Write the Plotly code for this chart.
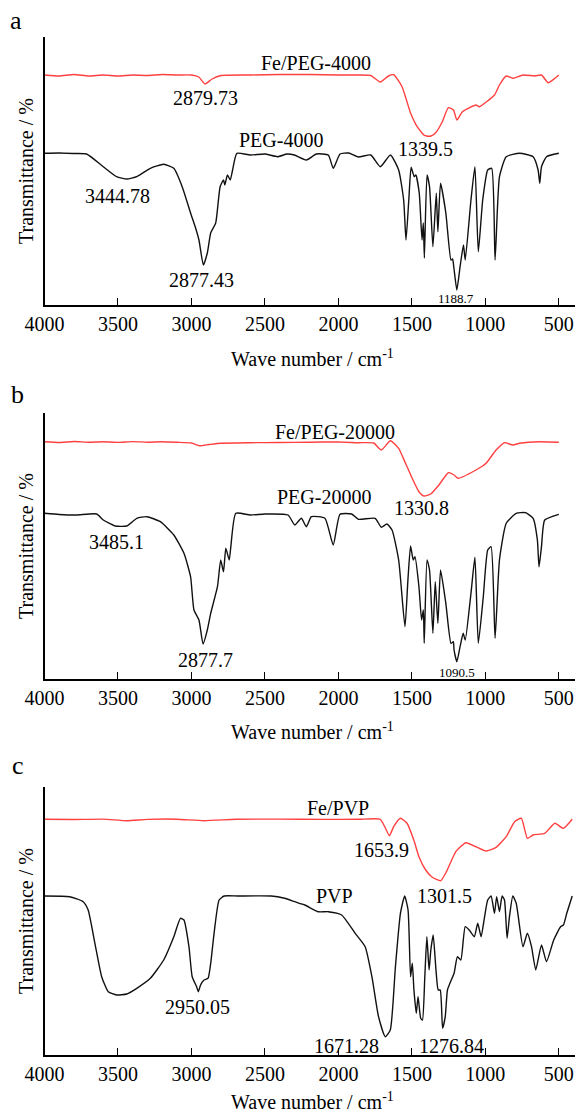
import plotly.graph_objects as go

# ---------------- data (wavenumber cm-1, transmittance a.u.) ----------------
wn_a_fe = [4000, 3900, 3800, 3700, 3600, 3500, 3400, 3300, 3200, 3100, 3000, 2950, 2908, 2860, 2800, 2600, 2400, 2200, 2000, 1864, 1780, 1715, 1660, 1624, 1567, 1509, 1464, 1418, 1400, 1370, 1338, 1293, 1252, 1217, 1194, 1156, 1064, 1041, 938, 904, 858, 813, 744, 664, 618, 573, 527, 500]
t_a_fe = [230, 229, 230.5, 229, 230, 229, 230, 229.5, 230.5, 230, 230, 228, 221, 226, 229.5, 230, 230.5, 230.5, 230, 230, 229.5, 223, 229, 230.3, 218.3, 192, 178.3, 170, 169, 169, 172.3, 183.3, 197.3, 195, 185, 193.3, 200, 198.3, 210, 220, 229, 226.7, 230, 229, 230, 222.3, 226.7, 230]

wn_a_peg = [4000, 3900, 3800, 3714, 3600, 3509, 3440, 3372, 3280, 3189, 3120, 3063, 3006, 2972, 2949, 2919, 2892, 2869, 2835, 2805, 2782, 2773, 2755, 2736, 2720, 2691, 2600, 2500, 2413, 2350, 2300, 2218, 2150, 2069, 2035, 1989, 1930, 1864, 1780, 1715, 1646, 1590, 1556, 1540, 1521, 1505, 1484, 1473, 1450, 1431, 1422, 1415, 1397, 1380, 1357, 1334, 1323, 1305, 1269, 1234, 1223, 1214, 1194, 1172, 1149, 1137, 1098, 1071, 1048, 1018, 984, 957, 934, 904, 858, 767, 675, 641, 630, 618, 584, 500]
t_a_peg = [151.7, 152, 151.5, 151, 138.3, 128.3, 126, 128.3, 136.7, 140.7, 136.7, 118.3, 92, 77, 65, 40, 52, 72, 82, 118.3, 125, 120, 130, 125, 135, 151.7, 150, 151, 148.3, 151, 150, 145, 151, 150, 136.7, 151, 152, 148, 150, 138.3, 150, 135, 105, 65, 105, 137.7, 128.3, 130, 112, 65, 82, 47, 130, 118.3, 58.3, 111.7, 73.3, 121.7, 92, 45, 46, 37, 15, 38.3, 60, 45, 105, 138.3, 53.3, 105, 135, 136.7, 45, 128.3, 148.3, 151.7, 148.3, 135, 121.7, 138.3, 148.3, 151.7]

wn_b_fe = [4000, 3900, 3800, 3700, 3600, 3500, 3400, 3300, 3200, 3100, 3000, 2945, 2880, 2800, 2600, 2400, 2200, 2000, 1864, 1760, 1708, 1646, 1590, 1543, 1498, 1452, 1418, 1372, 1316, 1252, 1213, 1185, 1064, 995, 927, 870, 813, 767, 630, 500]
t_b_fe = [237.3, 236.5, 237.5, 236.8, 237.3, 236.6, 237.4, 236.8, 237.2, 236.7, 236, 233.3, 234.5, 235.8, 236.3, 236.5, 236.8, 237, 236.3, 236, 229, 238.3, 230.7, 215.7, 200.7, 187.3, 183, 185, 194, 206.3, 204, 200.7, 209, 215.7, 229, 236.3, 234, 235.7, 237.3, 236.7]

wn_b_peg = [4000, 3900, 3783, 3645, 3600, 3520, 3440, 3372, 3303, 3212, 3120, 3051, 3006, 2983, 2949, 2921, 2892, 2869, 2823, 2801, 2782, 2766, 2743, 2732, 2698, 2600, 2500, 2343, 2297, 2252, 2218, 2184, 2092, 2035, 1989, 1910, 1864, 1750, 1708, 1670, 1635, 1590, 1547, 1527, 1509, 1491, 1479, 1452, 1434, 1422, 1416, 1397, 1380, 1357, 1341, 1323, 1305, 1269, 1234, 1218, 1213, 1194, 1172, 1151, 1137, 1098, 1071, 1048, 1014, 984, 961, 934, 904, 858, 790, 727, 675, 646, 635, 618, 596, 500]
t_b_peg = [165.7, 164.5, 164, 165, 159, 153, 153, 160.7, 162.3, 157.3, 144, 125.7, 102.3, 69, 59, 35, 49, 65.7, 92.3, 119, 107.3, 130.7, 119, 132.3, 165.7, 164, 165, 164, 154, 160.7, 152.3, 162.3, 160.7, 134, 164.7, 165, 159.7, 160.7, 151.7, 155, 149, 119, 52.3, 99, 133, 119, 122.3, 92.3, 59, 69, 35.7, 119, 109, 45.7, 97.3, 55.7, 109, 75.7, 35.7, 37.3, 29, 17.3, 32.3, 45.7, 39, 85.7, 121.7, 35.7, 82.3, 129, 132.3, 40.7, 119, 155.7, 165.7, 166.3, 160.7, 139, 112.3, 132.3, 159, 164.7]

wn_c_fe = [4000, 3800, 3600, 3440, 3300, 3100, 2914, 2700, 2400, 2100, 1864, 1715, 1685, 1653, 1624, 1578, 1533, 1487, 1452, 1406, 1361, 1304, 1265, 1201, 1133, 1064, 995, 927, 858, 801, 755, 714, 676, 596, 527, 469, 409]
t_c_fe = [235.7, 235.5, 235.9, 234.3, 235.6, 235.8, 234.3, 235.7, 235.9, 235.6, 235.7, 235.7, 228.3, 219.3, 228.3, 236.7, 231.7, 215, 198.3, 185, 177.7, 174.3, 183.3, 203.3, 212.3, 208.3, 204, 207.7, 218.3, 233.3, 236.7, 216.7, 220, 221.7, 231.7, 226.7, 235.7]

wn_c_pvp = [4000, 3829, 3737, 3703, 3657, 3611, 3566, 3509, 3440, 3372, 3280, 3189, 3120, 3075, 3051, 3017, 2995, 2965, 2953, 2938, 2914, 2887, 2869, 2846, 2812, 2777, 2686, 2458, 2366, 2298, 2229, 2138, 2069, 1978, 1886, 1818, 1772, 1727, 1681, 1647, 1612, 1578, 1549, 1526, 1509, 1497, 1486, 1470, 1458, 1440, 1428, 1412, 1398, 1383, 1371, 1355, 1336, 1321, 1307, 1291, 1273, 1258, 1241, 1213, 1190, 1167, 1137, 1110, 1075, 1052, 1029, 1007, 984, 961, 938, 923, 904, 886, 870, 852, 836, 813, 790, 744, 714, 686, 657, 618, 584, 535, 488, 469, 446, 409]
t_c_pvp = [159, 158.3, 153.3, 145, 111.7, 78.3, 63.3, 60, 61, 66.7, 76.7, 95, 118.3, 136.7, 135, 108.3, 78.3, 68.3, 63.3, 70, 75, 76.7, 91.7, 121.7, 155, 159, 159, 159, 156.7, 153.3, 150, 143.3, 143.3, 140, 121.7, 108.3, 78.3, 38.3, 18.3, 25, 88.3, 141.7, 159, 145, 78.3, 91.7, 65, 41.7, 58.3, 36.7, 35, 78.3, 118.3, 85, 105, 120, 85, 65, 65, 26.7, 38.3, 65, 71.7, 81.7, 98.3, 95, 128.3, 125, 118.3, 131.7, 118.3, 136.7, 155, 159, 141.7, 158.3, 143.3, 159, 155, 116.7, 138.3, 159, 151.7, 108.3, 121.7, 108.3, 85, 110, 93.3, 115, 128.3, 130, 141.7, 159]

tick_vals = [4000, 3500, 3000, 2500, 2000, 1500, 1000, 500]
tick_text = ["4000", "3500", "3000", "2500", "2000", "1500", "1000", "500"]

# labels per panel: (text, wavenumber, value, size)
labels_a = [("Fe/PEG-4000", 2152, 242, 20), ("2879.73", 2905, 207, 20), ("PEG-4000", 2391, 165, 20),
            ("3444.78", 3502, 109, 20), ("2877.43", 2933, 25, 20), ("1339.5", 1404, 156, 20), ("1188.7", 1199, 7, 13)]
labels_b = [("Fe/PEG-20000", 2021, 247, 20), ("PEG-20000", 2097, 182, 20), ("1330.8", 1432, 171, 20),
            ("3485.1", 3509, 137, 20), ("2877.7", 2905, 19, 20), ("1090.5", 1192, 7, 13)]
labels_c = [("Fe/PVP", 2000, 247, 20), ("1653.9", 1706, 205, 20), ("PVP", 2028, 159, 20),
            ("1301.5", 1281, 159, 20), ("2950.05", 2960, 48, 20), ("1671.28", 1947, 9, 20), ("1276.84", 1233, 9, 20)]

# ---------------- figure ----------------
W, H = 577, 1115
FONT = "Liberation Serif"
RED = "#ff4040"
BLACK = "#111111"

fig = go.Figure()

panels = [
    dict(letter="a", fe=(wn_a_fe, t_a_fe), pg=(wn_a_peg, t_a_peg), labels=labels_a, axis_py=305, top_py=37, letter_xy=(16, 20), title_py=358),
    dict(letter="b", fe=(wn_b_fe, t_b_fe), pg=(wn_b_peg, t_b_peg), labels=labels_b, axis_py=679, top_py=413, letter_xy=(17, 394), title_py=731),
    dict(letter="c", fe=(wn_c_fe, t_c_fe), pg=(wn_c_pvp, t_c_pvp), labels=labels_c, axis_py=1055, top_py=787, letter_xy=(18, 765), title_py=1101),
]

x_left, x_right = 44.5, 575
x_range = [4000, 390]

annotations = []
for i, p in enumerate(panels):
    n = i + 1
    xa = "x" if n == 1 else f"x{n}"
    ya = "y" if n == 1 else f"y{n}"
    fig.add_trace(go.Scatter(x=p["fe"][0], y=p["fe"][1], mode="lines",
                             line=dict(color=RED, width=1.4, shape="spline", smoothing=0.5),
                             xaxis=xa, yaxis=ya, showlegend=False, hoverinfo="skip"))
    fig.add_trace(go.Scatter(x=p["pg"][0], y=p["pg"][1], mode="lines",
                             line=dict(color=BLACK, width=1.4, shape="spline", smoothing=0.5),
                             xaxis=xa, yaxis=ya, showlegend=False, hoverinfo="skip"))
    yr = p["axis_py"] - p["top_py"]
    dom_y = [1 - p["axis_py"] / H, 1 - p["top_py"] / H]
    xkey = "xaxis" if n == 1 else f"xaxis{n}"
    ykey = "yaxis" if n == 1 else f"yaxis{n}"
    fig.update_layout(**{
        xkey: dict(domain=[x_left / W, x_right / W], range=x_range, anchor=ya, automargin=False,
                   showline=True, linecolor="black", linewidth=1.5, showgrid=False, zeroline=False,
                   ticks="inside", ticklen=7, tickwidth=1.2, tickcolor="black",
                   tickvals=tick_vals, ticktext=tick_text,
                   tickfont=dict(family=FONT, size=20, color="black")),
        ykey: dict(domain=dom_y, range=[0, yr], anchor=xa, automargin=False, showline=True,
                   linecolor="black", linewidth=1.5,
                   showgrid=False, zeroline=False, showticklabels=False, ticks=""),
    })
    for (txt, wx, vy, sz) in p["labels"]:
        annotations.append(dict(text=txt, x=wx, y=vy, xref=xa, yref=ya, showarrow=False,
                                xanchor="center", yanchor="middle",
                                font=dict(family=FONT, size=sz, color="black")))
    lx, ly = p["letter_xy"]
    annotations.append(dict(text=p["letter"], x=lx / W, y=1 - ly / H, xref="paper", yref="paper",
                            showarrow=False, xanchor="center", yanchor="middle",
                            font=dict(family=FONT, size=26, color="black")))
    annotations.append(dict(text="Wave number / cm<sup>-1</sup>", x=312 / W, y=1 - p["title_py"] / H,
                            xref="paper", yref="paper", showarrow=False, xanchor="center", yanchor="middle",
                            font=dict(family=FONT, size=20, color="black")))
    annotations.append(dict(text="Transmittance / %", x=26 / W, y=1 - ((p["axis_py"] + p["top_py"]) / 2) / H,
                            xref="paper", yref="paper", showarrow=False, textangle=-90,
                            xanchor="center", yanchor="middle",
                            font=dict(family=FONT, size=20, color="black")))

fig.update_layout(width=W, height=H, margin=dict(l=0, r=0, t=0, b=0, autoexpand=False),
                  paper_bgcolor="white", plot_bgcolor="white", annotations=annotations)

fig.write_html("out.html")
